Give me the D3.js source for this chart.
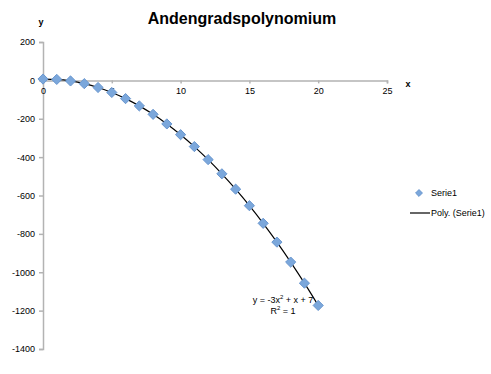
<!DOCTYPE html>
<html>
<head>
<meta charset="utf-8">
<script src="https://cdn.jsdelivr.net/npm/d3@7"></script>
<style>
  body { margin: 0; background: #fff; }
  svg { font-family: "Liberation Sans", Arial, sans-serif; }
</style>
</head>
<body>
<div id="container"></div>
<script>
// data
let xs = [0, 1, 2, 3, 4, 5, 6, 7, 8, 9, 10, 11, 12, 13, 14, 15, 16, 17, 18, 19, 20]
let ys = [7, 5, -3, -17, -37, -63, -95, -133, -177, -227, -283, -345, -413, -487, -567, -653, -745, -843, -947, -1057, -1173]
let xTicks = [0, 5, 10, 15, 20, 25]
let yTicks = [200, 0, -200, -400, -600, -800, -1000, -1200, -1400]
let seriesName = 'Serie1'
let trendName = 'Poly. (Serie1)'

let width = 491,
  height = 374

let data = xs.map((x, i) => ({ x: x, y: ys[i] }))

let x = d3.scaleLinear().domain([0, 25]).range([43, 387])
let y = d3.scaleLinear().domain([-1400, 200]).range([349, 42])

let svg = d3.select('#container')
  .append('svg')
  .attr('width', width)
  .attr('height', height)

// title
svg.append('text')
  .attr('x', 242).attr('y', 24)
  .attr('text-anchor', 'middle')
  .style('font-size', '16px').style('font-weight', 'bold')
  .text('Andengradspolynomium')

let axisColor = '#b3b3b3'
let plain = d => String(d)

// y axis
let yAxis = svg.append('g')
  .attr('transform', `translate(${x(0)},0)`)
  .call(d3.axisLeft(y).tickValues(yTicks).tickFormat(plain).tickSize(4).tickPadding(4))
yAxis.select('.domain').attr('stroke', axisColor).attr('stroke-width', 1.5)
yAxis.selectAll('.tick line').attr('stroke', axisColor).attr('stroke-width', 1.5)
yAxis.selectAll('.tick text').style('font-size', '9px').attr('fill', '#000')

// x axis at y = 0
let xAxis = svg.append('g')
  .attr('transform', `translate(0,${y(0)})`)
  .call(d3.axisBottom(x).tickValues(xTicks).tickFormat(plain).tickSize(3).tickPadding(4))
xAxis.select('.domain').attr('stroke', axisColor).attr('stroke-width', 1.5)
xAxis.selectAll('.tick line').attr('stroke', axisColor).attr('stroke-width', 1.5)
xAxis.selectAll('.tick text').style('font-size', '9px').attr('fill', '#000')

// axis titles
svg.append('text').attr('x', 41).attr('y', 25)
  .attr('text-anchor', 'middle')
  .style('font-size', '9px').style('font-weight', 'bold')
  .text('y')
svg.append('text').attr('x', 408).attr('y', 87)
  .attr('text-anchor', 'middle')
  .style('font-size', '9px').style('font-weight', 'bold')
  .text('x')

// trendline
let line = d3.line()
  .x(d => x(d.x))
  .y(d => y(d.y))
  .curve(d3.curveCatmullRom)

svg.append('path')
  .datum(data)
  .attr('d', line)
  .attr('fill', 'none')
  .attr('stroke', '#000')
  .attr('stroke-width', 1.2)

// markers
let diamond = d3.symbol().type(d3.symbolDiamond2).size(66)
svg.append('g')
  .selectAll('path')
  .data(data)
  .join('path')
  .attr('transform', d => `translate(${x(d.x)},${y(d.y)})`)
  .attr('d', diamond)
  .attr('fill', '#7ba7db')
  .attr('stroke', '#6a97cf')
  .attr('stroke-width', 1)

// equation
svg.append('text').attr('x', 283).attr('y', 303)
  .attr('text-anchor', 'middle')
  .style('font-size', '9px')
  .html('y = -3x<tspan dy="-4" font-size="6">2</tspan><tspan dy="4"> + x + 7</tspan>')
svg.append('text').attr('x', 283).attr('y', 314)
  .attr('text-anchor', 'middle')
  .style('font-size', '9px')
  .html('R<tspan dy="-4" font-size="6">2</tspan><tspan dy="4"> = 1</tspan>')

// legend
let legend = svg.append('g')
legend.append('path')
  .attr('transform', 'translate(419,193)')
  .attr('d', d3.symbol().type(d3.symbolDiamond2).size(30))
  .attr('fill', '#7ba7db')
  .attr('stroke', '#6a97cf')
legend.append('text').attr('x', 431).attr('y', 196)
  .style('font-size', '9px').text(seriesName)
legend.append('line')
  .attr('x1', 410).attr('x2', 430).attr('y1', 213).attr('y2', 213)
  .attr('stroke', '#000').attr('stroke-width', 1.2)
legend.append('text').attr('x', 431).attr('y', 216)
  .style('font-size', '9px').text(trendName)
</script>
</body>
</html>
